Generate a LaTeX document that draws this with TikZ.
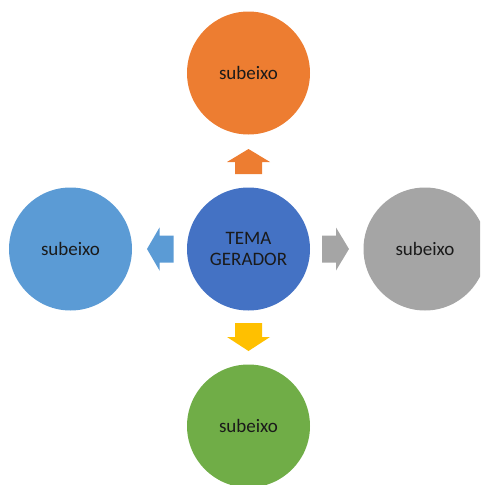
\documentclass[tikz,border=0pt]{standalone}
\usepackage{fontspec}
\setmainfont{Carlito}
\usetikzlibrary{calc}
\definecolor{corange}{HTML}{ED7D31}
\definecolor{cblue}{HTML}{4472C4}
\definecolor{clblue}{HTML}{5B9BD5}
\definecolor{cgray}{HTML}{A5A5A5}
\definecolor{cgreen}{HTML}{70AD47}
\definecolor{cgold}{HTML}{FFC000}
\definecolor{ctext}{HTML}{1A1A1A}
\tikzset{
  bubble/.style={circle, minimum size=123pt, inner sep=0pt, text=ctext,
    font=\fontsize{19}{21.5}\selectfont, align=center},
}
\begin{document}
\begin{tikzpicture}[x=1pt,y=-1pt]
\useasboundingbox (0,0) rectangle (480,485);
\clip (0,0) rectangle (480,485);
\node[bubble, fill=cblue] (c) at (248.5,249) {TEMA\\GERADOR};
\node[bubble, fill=corange] (t) at (248.5,73) {subeixo};
\node[bubble, fill=clblue] (l) at (70.5,249) {subeixo};
\node[bubble, fill=cgray] (r) at (425,249) {subeixo};
\node[bubble, fill=cgreen] (b) at (248.5,426) {subeixo};
% top arrow (up)
\fill[corange] ($(c.center)+(0,-100)$) -- ++(21.5,13) -- ++(-8,0) -- ++(0,12) -- ++(-27,0) -- ++(0,-12) -- ++(-8,0) -- cycle;
% bottom arrow (down)
\fill[cgold] ($(c.center)+(0,102)$) -- ++(21.5,-14) -- ++(-8,0) -- ++(0,-14) -- ++(-27,0) -- ++(0,14) -- ++(-8,0) -- cycle;
% left arrow
\fill[clblue] ($(c.center)+(-101.5,0)$) -- ++(12.5,-21.5) -- ++(0,8) -- ++(14,0) -- ++(0,27) -- ++(-14,0) -- ++(0,8) -- cycle;
% right arrow
\fill[cgray] ($(c.center)+(100.5,0)$) -- ++(-13,-21.5) -- ++(0,8) -- ++(-14,0) -- ++(0,27) -- ++(14,0) -- ++(0,8) -- cycle;
\end{tikzpicture}
\end{document}
